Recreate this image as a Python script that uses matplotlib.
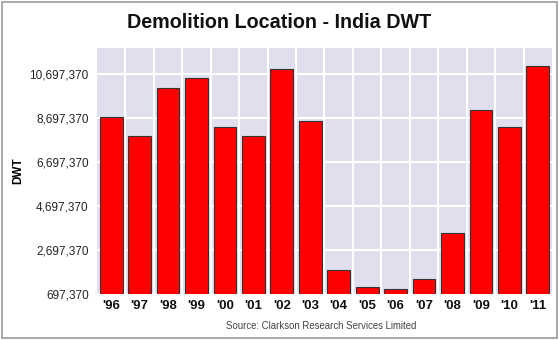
import matplotlib.pyplot as plt
from matplotlib.patches import Rectangle

years = ["'96", "'97", "'98", "'99", "'00", "'01", "'02", "'03",
         "'04", "'05", "'06", "'07", "'08", "'09", "'10", "'11"]
dwt = [8740000, 7880000, 10060000, 10510000, 8290000, 7880000, 10920000, 8560000,
       1790000, 1030000, 920000, 1370000, 3460000, 9060000, 8290000, 11070000]
ticks = [697370, 2697370, 4697370, 6697370, 8697370, 10697370]

plt.rcParams['font.family'] = ['Liberation Sans', 'DejaVu Sans']

fig = plt.figure(figsize=(5.59, 3.4), dpi=100)
ax = fig.add_axes([0.1735, 0.135, 0.814, 0.724])
ax.set_facecolor('#dfdfee')

x = list(range(len(years)))
ax.bar(x, dwt, width=0.8, color='#ff0000', edgecolor='#333333', linewidth=0.8,
       bottom=0, zorder=3)

ax.set_xlim(-0.5, len(years) - 0.5)
ax.set_ylim(ticks[0], 11880000)
ax.set_yticks(ticks)
ax.set_yticklabels([f'{t:,}' for t in ticks], fontsize=8.5, color='#222222')
ax.set_xticks(x)
ax.set_xticklabels(years, fontsize=9.5, fontweight='bold', color='#111111')
ax.set_xticks([i + 0.5 for i in x[:-1]], minor=True)
ax.tick_params(axis='both', which='both', length=0)
ax.tick_params(axis='y', pad=6)
ax.tick_params(axis='x', pad=4)
ax.grid(True, axis='y', color='white', linewidth=1.5, zorder=1)
ax.grid(True, axis='x', which='minor', color='white', linewidth=1.5, zorder=1)
for s in ax.spines.values():
    s.set_visible(False)

ax.set_ylabel('DWT', fontsize=8.5, fontweight='bold', labelpad=4)
fig.text(0.5, 0.935, 'Demolition Location - India DWT', ha='center', va='center',
         fontsize=14.2, fontweight='bold', color='#111111')
fig.text(0.575, 0.042, 'Source: Clarkson Research Services Limited', ha='center',
         va='center', fontsize=6.9, color='#444444')

fig.patches.append(Rectangle((0.003, 0.006), 0.994, 0.988, transform=fig.transFigure,
                             fill=False, edgecolor='#999999', linewidth=1.2))

fig.savefig('out.png', dpi=100)
